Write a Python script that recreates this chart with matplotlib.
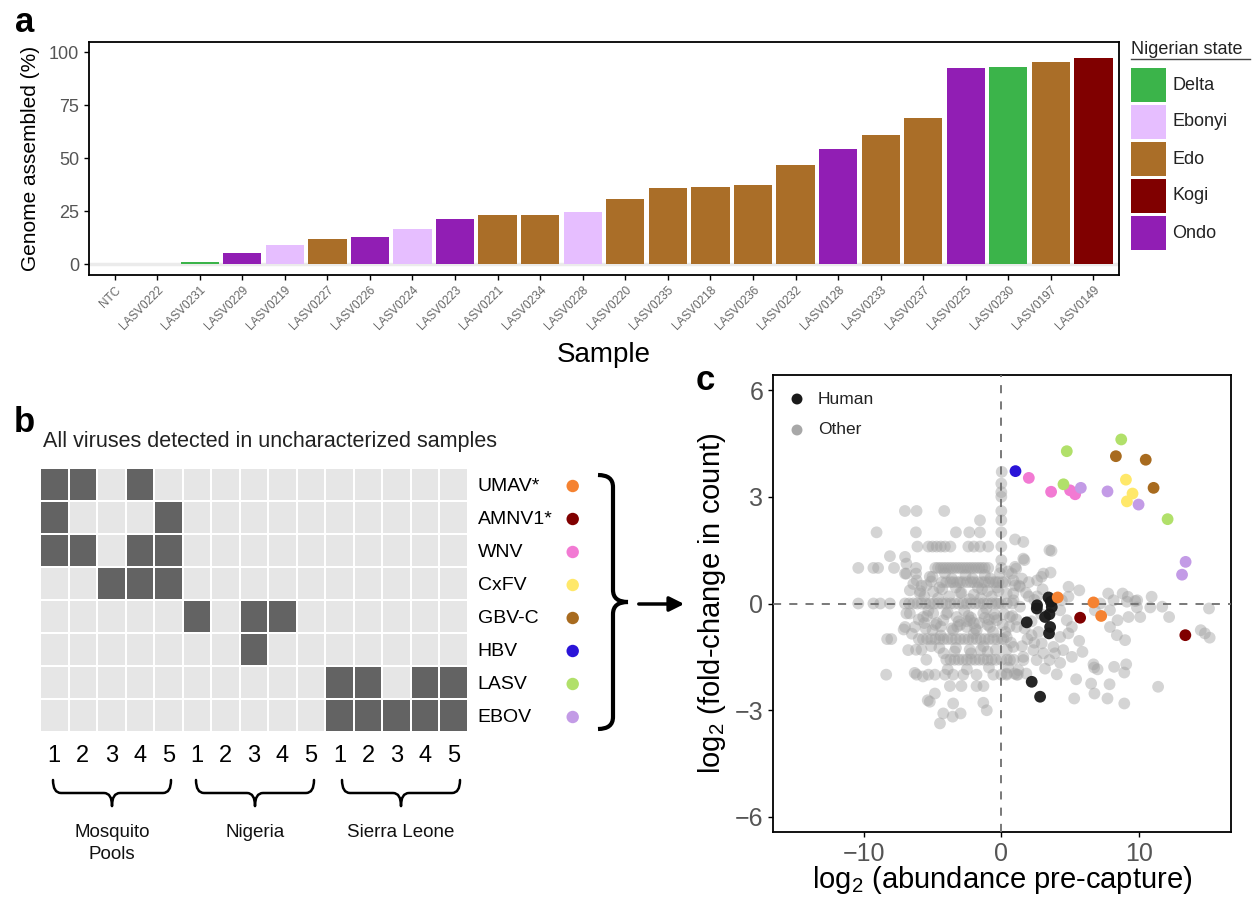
import numpy as np
import matplotlib.pyplot as plt
from matplotlib.path import Path
from matplotlib.patches import PathPatch, Rectangle
from matplotlib.colors import ListedColormap

plt.rcParams['font.family'] = ['Liberation Sans', 'DejaVu Sans']
plt.rcParams['mathtext.fontset'] = 'custom'
plt.rcParams['mathtext.rm'] = 'Liberation Sans'
plt.rcParams['mathtext.it'] = 'Liberation Sans:italic'

# ---------------- panel a data ----------------
samples = ['NTC', 'LASV0222', 'LASV0231', 'LASV0229', 'LASV0219', 'LASV0227',
           'LASV0226', 'LASV0224', 'LASV0223', 'LASV0221', 'LASV0234', 'LASV0228',
           'LASV0220', 'LASV0235', 'LASV0218', 'LASV0236', 'LASV0232', 'LASV0128',
           'LASV0233', 'LASV0237', 'LASV0225', 'LASV0230', 'LASV0197', 'LASV0149']
genome_pct = [0, 0, 1.2, 5.6, 9.0, 12.2, 12.7, 16.5, 21.2, 23.5, 23.5, 24.5,
              30.6, 35.8, 36.3, 37.2, 47.1, 54.6, 61.2, 69.2, 92.8, 93.2, 95.6, 97.5]
sample_state = ['', '', 'Delta', 'Ondo', 'Ebonyi', 'Edo', 'Ondo', 'Ebonyi', 'Ondo',
                'Edo', 'Edo', 'Ebonyi', 'Edo', 'Edo', 'Edo', 'Edo', 'Edo', 'Ondo',
                'Edo', 'Edo', 'Ondo', 'Delta', 'Edo', 'Kogi']
states = ['Delta', 'Ebonyi', 'Edo', 'Kogi', 'Ondo']
state_colors = ['#3BB44A', '#E6BEFF', '#AA6E28', '#800000', '#911EB4']

# ---------------- panel b data ----------------
virus_names = ['UMAV*', 'AMNV1*', 'WNV', 'CxFV', 'GBV-C', 'HBV', 'LASV', 'EBOV']
virus_colors = ['#F58231', '#800000', '#F27AD3', '#FFE86A', '#A86B1F',
                '#2A14D8', '#B1E06A', '#C39BE6']
group_names = ['Mosquito\nPools', 'Nigeria', 'Sierra Leone']
sample_numbers = ['1', '2', '3', '4', '5']
detected = [
    [1, 1, 0, 1, 0, 0, 0, 0, 0, 0, 0, 0, 0, 0, 0],
    [1, 0, 0, 0, 1, 0, 0, 0, 0, 0, 0, 0, 0, 0, 0],
    [1, 1, 0, 1, 1, 0, 0, 0, 0, 0, 0, 0, 0, 0, 0],
    [0, 0, 1, 1, 1, 0, 0, 0, 0, 0, 0, 0, 0, 0, 0],
    [0, 0, 0, 0, 0, 1, 0, 1, 1, 0, 0, 0, 0, 0, 0],
    [0, 0, 0, 0, 0, 0, 0, 1, 0, 0, 0, 0, 0, 0, 0],
    [0, 0, 0, 0, 0, 0, 0, 0, 0, 0, 1, 1, 0, 1, 1],
    [0, 0, 0, 0, 0, 0, 0, 0, 0, 0, 1, 1, 1, 1, 1],
]

# ---------------- panel c data ----------------
# viruses of interest: (abundance, fold-change) per virus
virus_x = [[4.1, 6.7, 7.26], [5.73, 13.38], [2.0, 3.62, 5.0, 5.37],
           [9.06, 9.54, 9.13], [8.33, 10.5, 11.07], [1.03],
           [8.72, 4.76, 4.52, 12.09], [5.78, 7.72, 9.98, 13.4, 13.14]]
virus_y = [[0.17, 0.03, -0.35], [-0.40, -0.89], [3.53, 3.14, 3.18, 3.07],
           [3.48, 3.09, 2.87], [4.14, 4.04, 3.25], [3.72],
           [4.61, 4.28, 3.35, 2.37], [3.25, 3.15, 2.78, 1.17, 0.81]]

human_x = [3.43, 3.67, 2.58, 3.18, 1.85, 3.55, 3.47, 2.21, 2.82, 3.6, 3.5, 2.6]
human_y = [0.17, -0.10, -0.14, -0.38, -0.53, -0.66, -0.84, -2.20, -2.62, 0.05, -0.30, -0.05]

# "other" taxa that fall on discrete fold-change bands
band_levels = [2.6, 2.0, 1.6, 1.0, 0.6, 0.0, -1.0, -1.58, -2.0]
band_x = [
    [-7.01, -6.16, -4.15, 0.0],
    [-9.07, -6.21, -3.3, -2.33, -1.55, 0.0],
    [-6.1, -5.3, -5.0, -4.7, -4.4, -4.1, -3.7, -2.4, -2.0, -1.55, -0.95, 0.0],
    [-10.4, -9.3, -8.96, -7.8, -6.2, -4.8, -4.6, -4.4, -4.2, -4.0, -3.8, -3.6,
     -3.4, -3.2, -3.0, -2.8, -2.6, -2.4, -2.2, -2.0, -1.8, -1.6, -1.4, -1.2,
     -0.95, 0.0],
    [-4.3, -4.0, -3.7, -3.5, -3.2, -3.0, -2.8, -2.5, -2.2, -2.0, -1.7, -1.4,
     -1.2, -0.9, -0.6, -0.4, -0.2, 0.1],
    [-10.4, -9.3, -8.8, -8.1, -7.0, -6.7, -6.4, -6.1, -5.8, -5.5, -5.2, -4.9,
     -4.6, -4.3, -4.0, -3.7, -3.4, -3.1, -2.8, -2.5, -2.2, -1.9, -1.6, -1.3,
     -1.0, -0.7, -0.4, -0.2, 0.0, 0.4, 0.8],
    [-8.3, -8.0, -6.0, -5.7, -5.4, -5.1, -4.8, -4.5, -4.2, -3.9, -3.6, -3.3,
     -3.0, -2.7, -2.4, -2.1, -1.8, -1.5, -1.2, -0.9, -0.6, -0.3, 0.0, 0.15],
    [-5.45, -4.0, -3.7, -3.4, -3.1, -2.8, -2.5, -2.2, -1.9, -1.6, -1.3, -1.0,
     -0.7, -0.4, 0.0, 0.4, 0.9],
    [-8.37, -6.16, -5.3, -4.83, -4.1, -3.5, -2.77, -1.8, -0.58, 0.0, 0.39, 1.12],
]

# remaining "other" taxa
other_x = [0.03, 0.0, 0.0, 0.0, -1.55, 0.0, 1.0, 1.6, -8.1, -7.0, 1.6, 1.68, 0.0, 1.0,
           -6.9, -6.16, -5.43, -4.95, -5.92, -6.65, -7.0, -6.2,
           0.76, 1.0, 0.87, 0.88, 1.36, 0.39, 0.88, 1.36, 0.63, 1.12, 0.39, 0.88, 1.6,
           0.63, 1.24, 0.39, 0.97, 1.82, 2.2, 2.94,
           1.08, 3.5, 3.65, 3.58, 2.92, 3.06, 1.5, 2.0, 2.6,
           4.89, 5.67, 7.77, 8.82, 9.2, 9.88, 10.93, 11.7, 12.2, 15.1,
           7.9, 8.16, 9.13, 9.74, 9.86, 8.45, 9.25, 10.1, 10.83, 7.9, 8.4, 9.0,
           14.5, 14.8, 15.15, 6.8, 7.2,
           5.66, 5.9, 5.13, 4.28, 3.18, 4.03, 5.44, 6.7, 6.75, 7.0, 8.2, 9.08, 8.94,
           7.87, 6.53, 6.77, 5.3, 7.72, 8.94, 11.4,
           4.28, 4.76, 5.13, 4.28, 3.79, 3.06, 2.33, 2.57, 3.5, 3.9, 4.5, 4.88, 4.4, 4.88,
           -6.9, -7.1, -5.5, -5.0, -4.4, -3.6, -2.5, -2.2, -2.0, -1.0, -0.5,
           -6.65, -5.68, -4.95, -4.22, -3.25, -2.28, -1.31, -0.33, -7.0, -6.29, -3.5,
           -2.52, -1.79, -0.82,
           -6.77, -1.5, -3.74, -2.9, -1.8, -1.3, -4.83, -5.2, -5.35, -3.5, -1.31, -1.06,
           -4.22, -3.54, -2.96, -4.46,
           0.4, 1.2, 1.6,
           -5.8, -4.5, -3.0, -2.0, -1.0, -0.3, -5.2, -3.8, -1.5, -6.9,
           1.8, 2.4, 2.9, 2.2, 1.9, 2.7, 3.0,
           -6.4, -5.6, -5.1, -4.6, -4.1, -3.3, -2.6, -2.3, -1.7, -1.2, -0.7, -0.1, 0.3,
           -6.0, -5.3, -4.7, -3.9, -3.0, -2.7, -1.6, -1.1, -0.6, 0.2, 0.6,
           -5.8, -4.5, -3.4, -2.3, -1.0, 0.5, -3.9, -2.5, -0.9, -6.3, -5.7,
           -5.9, -5.0, -4.3, -3.6, -2.9, -2.1, -1.4, -0.8, -0.2, 0.5, 1.3, 2.0,
           -5.4, -4.8, -4.0, -3.2, -2.4, -1.9, -1.2, -0.5, 0.1, 0.8, 1.7, 2.4,
           -6.2, -5.1, -4.2, -3.3, -2.2, -1.3, -0.4, 0.7, 1.5,
           -6.5, -5.6, -4.4, -3.1, -2.0, -0.9, 0.3, 1.1, 2.6]
other_y = [3.70, 3.37, 3.13, 3.0, 2.34, 2.34, 1.8, 1.73, 1.33, 1.31, 1.26, 1.22, 1.22, 1.03,
           0.84, 0.65, 0.51, 0.33, 0.28, 0.37, 0.84, 0.84,
           0.84, 0.51, 0.28, 0.65, 0.47, 0.28, 0.09, -0.09, -0.38, -0.66, -0.94, -1.22, -1.5,
           -1.59, -1.87, -1.97, -1.97, -1.97, -0.89, -1.12,
           0.98, 1.5, 1.48, 0.87, 0.75, 0.84, 0.7, 0.6, 0.65,
           0.47, 0.37, 0.28, 0.28, 0.19, 0.09, 0.19, -0.09, -0.38, -0.14,
           -0.19, 0.09, 0.05, 0.07, -0.11, -0.47, -0.38, -0.38, -0.11, -0.66, -0.89, -1.03,
           -0.75, -0.84, -0.96, -0.19, 0.0,
           -1.05, -1.36, -1.5, -1.67, -1.83, -1.99, -2.13, -1.71, -1.8, -1.85, -1.78, -1.71, -1.94,
           -2.27, -2.25, -2.53, -2.67, -2.67, -2.81, -2.34,
           -0.19, -0.47, -0.66, -0.94, -1.22, -1.4, -1.31, -1.59, -1.59, -1.4, -1.31, -0.84, 0.09, 0.19,
           -0.28, -0.73, -0.7, -0.75, -0.65, -0.7, -0.5, -0.4, -0.55, -0.6, -0.4,
           -0.28, -0.38, -0.28, -0.47, -0.38, -0.47, -0.28, -0.47, -0.66, -0.66, -0.75,
           -0.66, -0.75, -0.66,
           -1.31, -1.31, -2.32, -2.32, -2.32, -2.32, -2.53, -2.76, -2.72, -2.81, -2.79, -3.0,
           -3.09, -3.18, -3.09, -3.37,
           -1.3, -2.0, -1.59,
           0.5, 0.45, 0.3, 0.25, 0.35, 0.45, 0.75, 0.2, 0.15, 1.12,
           0.3, 0.1, -0.3, -0.5, -1.0, -0.8, 0.4,
           0.55, 0.2, 0.62, 0.15, 0.85, 0.45, 0.8, 0.12, 0.45, 0.8, 0.2, 0.85, 0.6,
           -0.45, -0.2, -0.55, -0.25, -0.6, -0.2, -0.55, -0.15, -0.8, -0.3, -0.65,
           -1.3, -1.25, -1.35, -1.3, -1.35, -1.8, -1.85, -1.85, -1.8, -1.95, -2.05,
           0.35, 0.75, 0.4, 0.7, 0.3, 0.7, 0.4, 0.7, 0.35, 0.9, 0.5, 0.2,
           -0.35, -0.6, -0.3, -0.65, -0.35, -0.7, -0.4, -0.3, -0.6, -0.35, -0.7, -1.1,
           -1.3, -1.2, -1.4, -1.25, -1.4, -1.2, -1.3, -1.1, -1.2,
           -0.85, -0.55, -0.9, -0.5, -0.85, -0.45, -0.8, -0.45, 0.2]

W, H = 1255, 898
fig = plt.figure(figsize=(12.55, 8.98), dpi=100)

# ================= panel a =================
ax_a = fig.add_axes([89 / W, 1 - 275 / H, (1119 - 89) / W, (275 - 41.7) / H])
color_of = dict(zip(states, state_colors))
xpos = np.arange(len(samples))
ax_a.axhline(0, color='#EBEBEB', lw=2.5, zorder=0)
ax_a.bar(xpos, genome_pct, width=0.9,
         color=[color_of.get(s, '#EBEBEB') for s in sample_state], zorder=2)
ax_a.set_xlim(-0.6, len(samples) - 0.4)
ax_a.set_ylim(-5, 105)
ax_a.set_yticks([0, 25, 50, 75, 100])
ax_a.set_xticks(xpos)
ax_a.set_xticklabels(samples, rotation=45, ha='right', rotation_mode='anchor',
                     fontsize=8.5, color='#666666')
ax_a.tick_params(axis='y', labelsize=13, labelcolor='#555555', length=3.5, width=1)
ax_a.tick_params(axis='x', length=3.5, width=1, pad=3)
for sp in ax_a.spines.values():
    sp.set_linewidth(1.3)
ax_a.set_ylabel('Genome assembled (%)', fontsize=15)
ax_a.yaxis.set_label_coords((31 - 89) / 1030, 0.5)
ax_a.yaxis.label.set_va('center')
ax_a.set_xlabel('Sample', fontsize=20)
ax_a.xaxis.set_label_coords(0.5, (275 - 355) / 233.3)
ax_a.xaxis.label.set_va('center')

# ================= panel b =================
ax_b = fig.add_axes([40 / W, 1 - 732 / H, 428 / W, 264 / H])
ax_b.pcolormesh(np.array(detected), cmap=ListedColormap(['#E6E6E6', '#636363']),
                edgecolors='white', linewidth=1.2)
ax_b.set_xlim(0, 15)
ax_b.set_ylim(8, 0)
ax_b.set_xticks(np.arange(15) + 0.5)
ax_b.set_xticklabels(sample_numbers * 3, fontsize=17)
ax_b.set_yticks(np.arange(8) + 0.5)
ax_b.set_yticklabels(virus_names, fontsize=14)
ax_b.yaxis.tick_right()
ax_b.tick_params(axis='x', length=0, pad=9)
ax_b.tick_params(axis='y', length=0, pad=7)
for sp in ax_b.spines.values():
    sp.set_visible(False)

# ================= panel c =================
ax_c = fig.add_axes([773 / W, 1 - 832.3 / H, 458 / W, 457.6 / H])
gx = [x for row in band_x for x in row] + other_x
gy = [lvl for lvl, row in zip(band_levels, band_x) for _ in row] + other_y
ax_c.scatter(gx, gy, s=72, color='#A0A0A0', alpha=0.45, edgecolors='none', zorder=2)
ax_c.axhline(0, color='#6E6E6E', lw=1.3, ls=(0, (4.5, 4.5)), zorder=3)
ax_c.axvline(0, color='#6E6E6E', lw=1.3, ls=(0, (4.5, 4.5)), zorder=3)
ax_c.scatter(human_x, human_y, s=72, color='#1A1A1A', alpha=0.95,
             edgecolors='none', zorder=4)
for vx, vy, col in zip(virus_x, virus_y, virus_colors):
    ax_c.scatter(vx, vy, s=72, color=col, edgecolors='none', zorder=5)
ax_c.set_xlim(-16.6, 16.7)
ax_c.set_ylim(-6.43, 6.43)
ax_c.set_xticks([-10, 0, 10])
ax_c.set_yticks([-6, -3, 0, 3, 6])
ax_c.tick_params(labelsize=18, labelcolor='#555555', length=3.5, width=1)
for sp in ax_c.spines.values():
    sp.set_linewidth(1.3)
ax_c.set_ylabel(r'$\mathregular{log_2}$ (fold-change in count)', fontsize=21)
ax_c.yaxis.set_label_coords((712 - 773) / 458, 0.5)
ax_c.yaxis.label.set_va('center')
ax_c.set_xlabel(r'$\mathregular{log_2}$ (abundance pre-capture)', fontsize=21)
ax_c.xaxis.set_label_coords(0.5, (832.3 - 880) / 457.6)
ax_c.xaxis.label.set_va('center')

# ================= annotations (pixel overlay) =================
ov = fig.add_axes([0, 0, 1, 1], zorder=10)
ov.set_xlim(0, W)
ov.set_ylim(H, 0)
ov.axis('off')

# panel letters
ov.text(15, 32, 'a', fontsize=25, fontweight='bold', va='baseline')
ov.text(14, 432, 'b', fontsize=25, fontweight='bold', va='baseline')
ov.text(696, 390, 'c', fontsize=25, fontweight='bold', va='baseline')

# legend of panel a
ov.text(1131, 50, 'Nigerian state', fontsize=13, va='center', color='#222222')
ov.plot([1131, 1250], [59, 59], color='#444444', lw=1)
for i, (st, col) in enumerate(zip(states, state_colors)):
    ov.add_patch(Rectangle((1131, 68 + i * 37), 35, 34, color=col, lw=0))
    ov.text(1172, 85 + i * 37, st, fontsize=13, va='center', color='#222222')

# panel b title, virus dots
ov.text(43, 441, 'All viruses detected in uncharacterized samples', fontsize=15.5,
        va='center', color='#222222')
ov.scatter([572.7] * len(virus_colors), [486 + i * 33 for i in range(len(virus_colors))],
           s=80, c=virus_colors, edgecolors='none')


def brace_down(x0, x1, y0, y1, r=8):
    xc, ym = (x0 + x1) / 2, (y0 + y1) / 2
    verts = [(x0, y0), (x0, ym), (x0 + r, ym), (xc - r, ym), (xc, ym), (xc, y1),
             (xc, y1), (xc, ym), (xc + r, ym), (x1 - r, ym), (x1, ym), (x1, y0)]
    codes = [Path.MOVETO, Path.CURVE3, Path.CURVE3, Path.LINETO, Path.CURVE3, Path.CURVE3,
             Path.MOVETO, Path.CURVE3, Path.CURVE3, Path.LINETO, Path.CURVE3, Path.CURVE3]
    ov.add_patch(PathPatch(Path(verts, codes), fill=False, lw=1.8, color='black',
                           capstyle='round', joinstyle='round'))


def brace_right(x0, x1, y0, y1, r=12):
    xm, yc = (x0 + x1) / 2, (y0 + y1) / 2
    verts = [(x0, y0), (xm, y0), (xm, y0 + r), (xm, yc - r), (xm, yc), (x1, yc),
             (x1, yc), (xm, yc), (xm, yc + r), (xm, y1 - r), (xm, y1), (x0, y1)]
    codes = [Path.MOVETO, Path.CURVE3, Path.CURVE3, Path.LINETO, Path.CURVE3, Path.CURVE3,
             Path.MOVETO, Path.CURVE3, Path.CURVE3, Path.LINETO, Path.CURVE3, Path.CURVE3]
    ov.add_patch(PathPatch(Path(verts, codes), fill=False, lw=3, color='black',
                           capstyle='butt', joinstyle='round'))


group_centers = [112, 255, 401]
for xc, name in zip(group_centers, group_names):
    brace_down(xc - 59, xc + 59, 780, 806)
    ov.text(xc, 824, name, fontsize=13.5, ha='center', va='top', linespacing=1.35,
            color='#111111')

brace_right(598, 628, 475, 729)
ov.annotate('', xy=(687, 604), xytext=(636, 604),
            arrowprops=dict(arrowstyle='-|>', lw=2.5, color='black', mutation_scale=22))

# legend of panel c
ov.scatter([797, 797], [399, 430], s=62, c=['#1A1A1A', '#A8A8A8'], edgecolors='none')
ov.text(818, 399, 'Human', fontsize=12.5, va='center', color='#222222')
ov.text(818, 430, 'Other', fontsize=12.5, va='center', color='#222222')

fig.savefig('out.png', dpi=100)
